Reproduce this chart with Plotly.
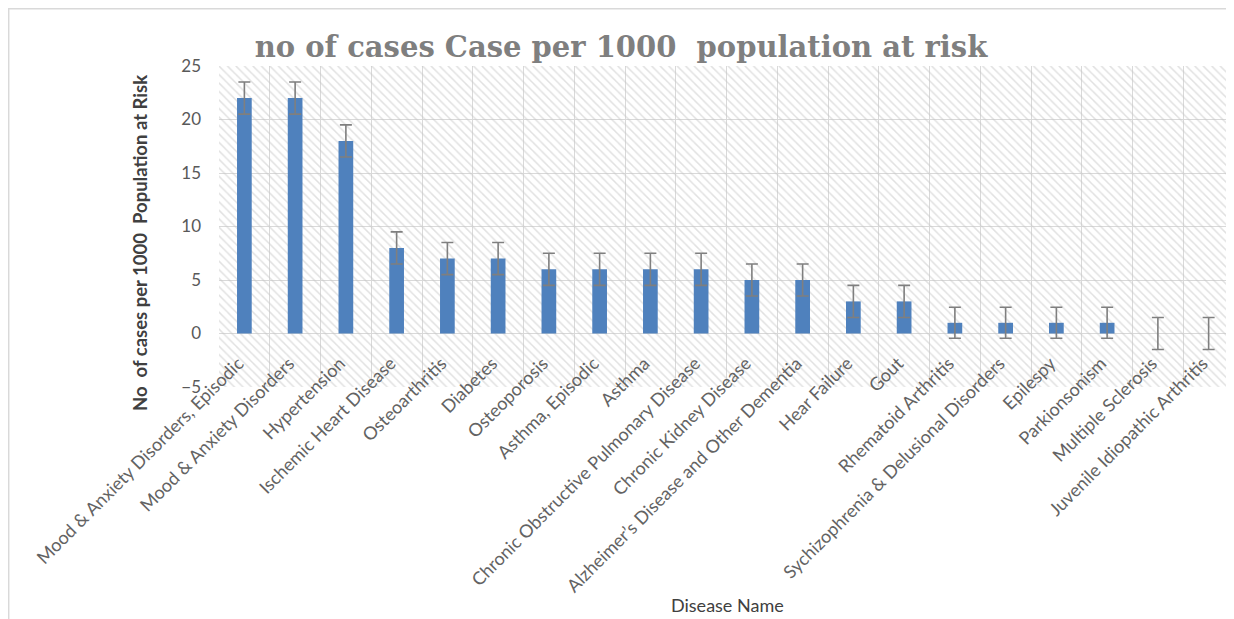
import plotly.graph_objects as go

diseases = [
    "Mood & Anxiety Disorders, Episodic",
    "Mood & Anxiety Disorders",
    "Hypertension",
    "Ischemic Heart Disease",
    "Osteoarthritis",
    "Diabetes",
    "Osteoporosis",
    "Asthma, Episodic",
    "Asthma",
    "Chronic Obstructive Pulmonary Disease",
    "Chronic Kidney Disease",
    "Alzheimer\u2019s Disease and Other Dementia",
    "Hear Failure",
    "Gout",
    "Rhematoid Arthritis",
    "Sychizophrenia & Delusional Disorders",
    "Epilespy",
    "Parkionsonism",
    "Multiple Sclerosis",
    "Juvenile Idiopathic Arthritis",
]
cases_per_1000 = [22, 22, 18, 8, 7, 7, 6, 6, 6, 6, 5, 5, 3, 3, 1, 1, 1, 1, 0, 0]
error_margin = [1.5, 1.5, 1.5, 1.5, 1.5, 1.5, 1.5, 1.5, 1.5, 1.5,
                1.5, 1.5, 1.5, 1.5, 1.45, 1.45, 1.45, 1.45, 1.5, 1.5]
y_ticks = [-5, 0, 5, 10, 15, 20, 25]

Y_MIN, Y_MAX = y_ticks[0], y_ticks[-1]

# page body has an 8px margin: figure is drawn at (8, 8) in the window
OFF = 8
W, H = 1234 - OFF, 619 - OFF
L, T = 219 - OFF, 66 - OFF
R = 0
B = H - (387 - OFF)
pw, ph = W - L - R, H - T - B


def px_x(p):
    """window pixel x -> paper coordinate"""
    return (p - OFF - L) / pw


def px_y(p):
    """window pixel y -> paper coordinate"""
    return (H - B - (p - OFF)) / ph


fig = go.Figure()

# hatched plot-area background
fig.add_trace(go.Bar(
    x=diseases,
    y=[Y_MAX - Y_MIN] * len(diseases),
    base=Y_MIN,
    width=1,
    marker=dict(
        color="rgba(0,0,0,0)",
        line=dict(width=0),
        pattern=dict(shape="\\", fgcolor="#c4c4c4", bgcolor="rgba(0,0,0,0)",
                     size=6, solidity=0.25),
    ),
    hoverinfo="skip",
    showlegend=False,
))

fig.add_trace(go.Bar(
    x=diseases,
    y=cases_per_1000,
    width=0.29,
    marker=dict(color="#4f81bd", line=dict(width=0)),
    error_y=dict(type="data", array=error_margin, symmetric=True,
                 color="#7f7f7f", thickness=1.6, width=6),
    showlegend=False,
))

fig.update_layout(
    width=W, height=H, autosize=False,
    margin=dict(l=L, r=R, t=T, b=B, pad=0),
    paper_bgcolor="white", plot_bgcolor="white",
    barmode="overlay",
    showlegend=False,
    title=dict(
        text="no of cases Case per 1000\u00a0 population at risk",
        font=dict(family="DejaVu Serif", size=29, color="#7f7f7f", weight="bold"),
        x=(621 - OFF) / W, xanchor="center",
        y=1 - (47 - OFF) / H, yanchor="middle",
    ),
    xaxis=dict(
        type="category",
        range=[-0.5, len(diseases) - 0.5],
        tickson="boundaries",
        showgrid=True, gridcolor="#d9d9d9", gridwidth=1,
        showline=False, zeroline=False,
        ticks="",
        tickangle=-45,
        ticklabelstandoff=15,
        ticklabelshift=-6,
        tickfont=dict(family="Lato", size=18, color="#636363"),
        anchor="free",
        position=(0 - Y_MIN) / (Y_MAX - Y_MIN),
    ),
    yaxis=dict(
        range=[Y_MIN, Y_MAX],
        tickvals=y_ticks,
        showgrid=True, gridcolor="#d9d9d9", gridwidth=1,
        zeroline=False, showline=False,
        ticks="",
        ticklabelstandoff=17,
        tickfont=dict(family="Lato", size=17, color="#595959"),
    ),
    annotations=[
        dict(text="No\u00a0 of cases per 1000\u00a0 Population at Risk",
             xref="paper", yref="paper", x=px_x(140), y=px_y(243),
             xanchor="center", yanchor="middle", textangle=-90, showarrow=False,
             font=dict(family="Lato", size=18.5, color="#404040", weight="bold")),
        dict(text="Disease Name",
             xref="paper", yref="paper", x=px_x(727), y=px_y(605),
             xanchor="center", yanchor="middle", showarrow=False,
             font=dict(family="Lato", size=18, color="#404040")),
    ],
    shapes=[
        dict(type="line", xref="paper", yref="paper",
             x0=px_x(8.7), x1=px_x(8.7), y0=px_y(630), y1=px_y(8),
             line=dict(color="#d9d9d9", width=1.5)),
        dict(type="line", xref="paper", yref="paper",
             x0=px_x(8), x1=px_x(1240), y0=px_y(8.7), y1=px_y(8.7),
             line=dict(color="#d9d9d9", width=1.5)),
    ],
)

fig.write_html("out.html")
